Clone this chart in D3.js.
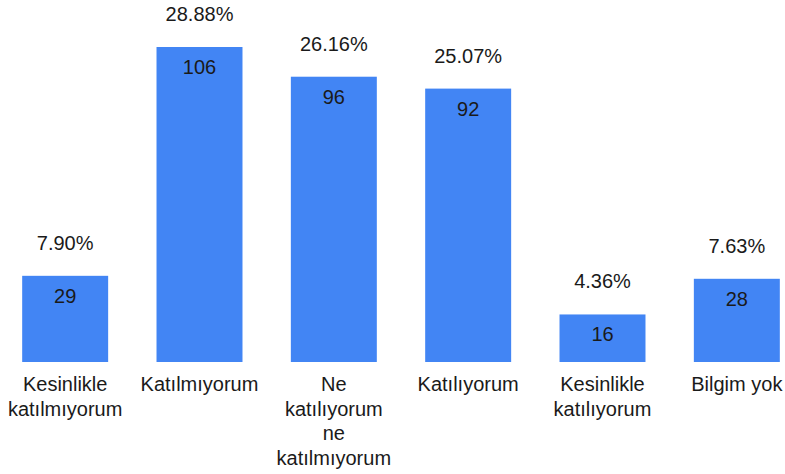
<!DOCTYPE html>
<meta charset="utf-8">
<script src="https://d3js.org/d3.v7.min.js"></script>
<style>
  body { margin: 0; background: #fff; }
  text { font-family: "Liberation Sans", Arial, sans-serif; fill: #1a1a1a; }
</style>
<svg id="chart" width="785" height="474"></svg>

<script>
  // data
  var categories = ["Kesinlikle katılmıyorum", "Katılmıyorum", "Ne katılıyorum ne katılmıyorum",
                    "Katılıyorum", "Kesinlikle katılıyorum", "Bilgim yok"];
  var counts = [29, 106, 96, 92, 16, 28];

  var total = d3.sum(counts);

  var svg = d3.select("svg");

  var x = d3.scaleBand()
    .domain(categories)
    .range([-2, 804])
    .paddingInner(0.36)
    .paddingOuter(0.18);

  var y = d3.scaleLinear()
    .domain([0, 106])
    .range([362, 47]);

  var bars = svg.append("g")
    .selectAll("g")
    .data(categories)
    .enter()
    .append("g");

  bars.append("rect")
    .attr("x", function(d) { return x(d); })
    .attr("y", function(d, i) { return y(counts[i]); })
    .attr("width", x.bandwidth())
    .attr("height", function(d, i) { return y(0) - y(counts[i]); })
    .attr("fill", "#4285f4");

  // count inside bar
  bars.append("text")
    .attr("x", function(d) { return x(d) + x.bandwidth() / 2; })
    .attr("y", function(d, i) { return y(counts[i]) + 20; })
    .attr("dy", "0.35em")
    .attr("text-anchor", "middle")
    .style("font-size", "20px")
    .text(function(d, i) { return counts[i]; });

  // percentage above bar
  bars.append("text")
    .attr("x", function(d) { return x(d) + x.bandwidth() / 2; })
    .attr("y", function(d, i) { return y(counts[i]) - 33; })
    .attr("dy", "0.35em")
    .attr("text-anchor", "middle")
    .style("font-size", "20px")
    .text(function(d, i) { return (counts[i] / total * 100).toFixed(2) + "%"; });

  // category labels, wrapped
  bars.append("text")
    .attr("x", function(d) { return x(d) + x.bandwidth() / 2; })
    .attr("y", 384)
    .attr("text-anchor", "middle")
    .style("font-size", "20px")
    .each(function(d) {
      var el = d3.select(this),
          words = d.split(" "),
          line = [],
          lineNo = 0,
          cx = el.attr("x"),
          tspan = el.append("tspan").attr("x", cx).attr("dy", "0.35em");
      words.forEach(function(w) {
        line.push(w);
        tspan.text(line.join(" "));
        if (tspan.node().getComputedTextLength() > 120 && line.length > 1) {
          line.pop();
          tspan.text(line.join(" "));
          line = [w];
          lineNo++;
          tspan = el.append("tspan").attr("x", cx).attr("y", 384 + lineNo * 24.5).attr("dy", "0.35em").text(w);
        }
      });
    });
</script>
